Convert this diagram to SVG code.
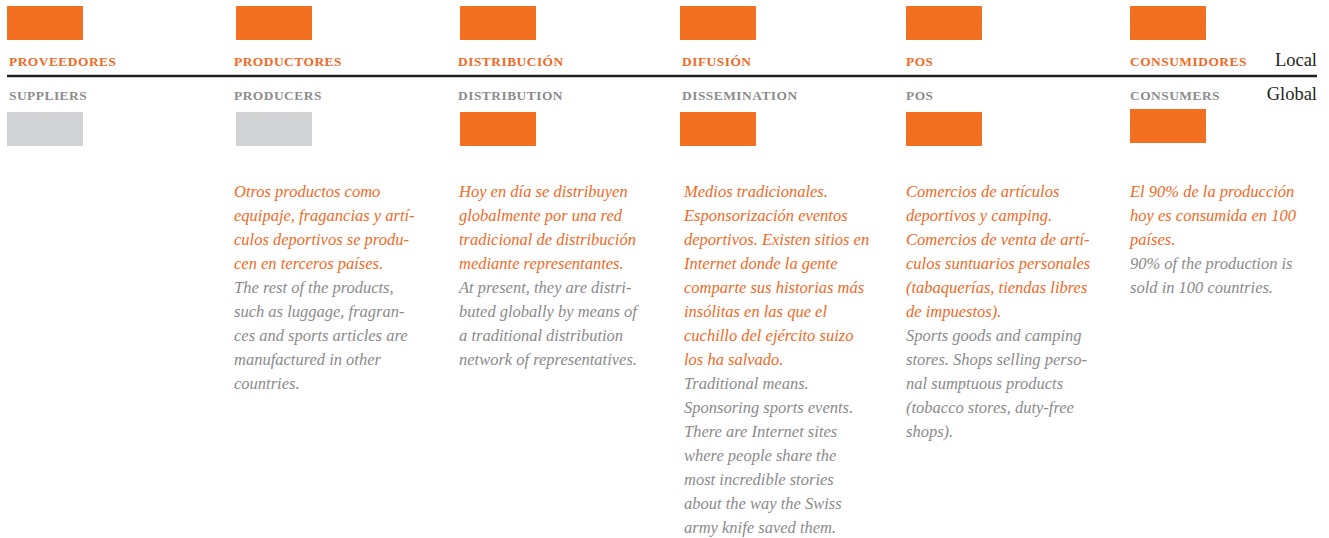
<svg xmlns="http://www.w3.org/2000/svg" width="1329" height="538" viewBox="0 0 1329 538">
<style>
.or{fill:#f37021}
.gr{fill:#d1d2d4}
.es{font-family:"Liberation Serif",serif;font-weight:bold;font-size:13.4px;letter-spacing:0.5px;fill:#f06a26}
.en{font-family:"Liberation Serif",serif;font-weight:bold;font-size:13.4px;letter-spacing:0.5px;fill:#8c8c8e}
.side{font-family:"Liberation Serif",serif;font-size:18.5px;fill:#231f20;text-anchor:end}
.body{font-family:"Liberation Serif",serif;font-style:italic;font-size:16.5px}
.o{fill:#f06a26}
.g{fill:#8a8a8c}
</style>
<rect width="1329" height="538" fill="#ffffff"/>
<g id="connectors">
<line x1="7" y1="76" x2="1317" y2="76" stroke="#231f20" stroke-width="2.5"/>
</g>
<text class="side" x="1317" y="66">Local</text>
<text class="side" x="1317" y="100">Global</text>
<g id="proveedores">
<rect class="or" x="7" y="6" width="76" height="34"/>
<text class="es" x="9" y="66">PROVEEDORES</text>
<text class="en" x="9" y="100">SUPPLIERS</text>
<rect class="gr" x="7" y="112" width="76" height="34"/>
</g>
<g id="productores">
<rect class="or" x="236" y="6" width="76" height="34"/>
<text class="es" x="234" y="66">PRODUCTORES</text>
<text class="en" x="234" y="100">PRODUCERS</text>
<rect class="gr" x="236" y="112" width="76" height="34"/>
<text class="body" x="234">
<tspan class="o" x="234" y="197">Otros productos como</tspan>
<tspan class="o" x="234" y="221">equipaje, fragancias y artí-</tspan>
<tspan class="o" x="234" y="245">culos deportivos se produ-</tspan>
<tspan class="o" x="234" y="269">cen en terceros países.</tspan>
<tspan class="g" x="234" y="293">The rest of the products,</tspan>
<tspan class="g" x="234" y="317">such as luggage, fragran-</tspan>
<tspan class="g" x="234" y="341">ces and sports articles are</tspan>
<tspan class="g" x="234" y="365">manufactured in other</tspan>
<tspan class="g" x="234" y="389">countries.</tspan>
</text>
</g>
<g id="distribucion">
<rect class="or" x="460" y="6" width="76" height="34"/>
<text class="es" x="458" y="66">DISTRIBUCIÓN</text>
<text class="en" x="458" y="100">DISTRIBUTION</text>
<rect class="or" x="460" y="112" width="76" height="34"/>
<text class="body">
<tspan class="o" x="459" y="197">Hoy en día se distribuyen</tspan>
<tspan class="o" x="459" y="221">globalmente por una red</tspan>
<tspan class="o" x="459" y="245">tradicional de distribución</tspan>
<tspan class="o" x="459" y="269">mediante representantes.</tspan>
<tspan class="g" x="459" y="293">At present, they are distri-</tspan>
<tspan class="g" x="459" y="317">buted globally by means of</tspan>
<tspan class="g" x="459" y="341">a traditional distribution</tspan>
<tspan class="g" x="459" y="365">network of representatives.</tspan>
</text>
</g>
<g id="difusion">
<rect class="or" x="680" y="6" width="76" height="34"/>
<text class="es" x="682" y="66">DIFUSIÓN</text>
<text class="en" x="682" y="100">DISSEMINATION</text>
<rect class="or" x="680" y="112" width="76" height="34"/>
<text class="body">
<tspan class="o" x="684" y="197">Medios tradicionales.</tspan>
<tspan class="o" x="684" y="221">Esponsorización eventos</tspan>
<tspan class="o" x="684" y="245">deportivos. Existen sitios en</tspan>
<tspan class="o" x="684" y="269">Internet donde la gente</tspan>
<tspan class="o" x="684" y="293">comparte sus historias más</tspan>
<tspan class="o" x="684" y="317">insólitas en las que el</tspan>
<tspan class="o" x="684" y="341">cuchillo del ejército suizo</tspan>
<tspan class="o" x="684" y="365">los ha salvado.</tspan>
<tspan class="g" x="684" y="389">Traditional means.</tspan>
<tspan class="g" x="684" y="413">Sponsoring sports events.</tspan>
<tspan class="g" x="684" y="437">There are Internet sites</tspan>
<tspan class="g" x="684" y="461">where people share the</tspan>
<tspan class="g" x="684" y="485">most incredible stories</tspan>
<tspan class="g" x="684" y="509">about the way the Swiss</tspan>
<tspan class="g" x="684" y="533">army knife saved them.</tspan>
</text>
</g>
<g id="pos">
<rect class="or" x="906" y="6" width="76" height="34"/>
<text class="es" x="906" y="66">POS</text>
<text class="en" x="906" y="100">POS</text>
<rect class="or" x="906" y="112" width="76" height="34"/>
<text class="body">
<tspan class="o" x="906" y="197">Comercios de artículos</tspan>
<tspan class="o" x="906" y="221">deportivos y camping.</tspan>
<tspan class="o" x="906" y="245">Comercios de venta de artí-</tspan>
<tspan class="o" x="906" y="269">culos suntuarios personales</tspan>
<tspan class="o" x="906" y="293">(tabaquerías, tiendas libres</tspan>
<tspan class="o" x="906" y="317">de impuestos).</tspan>
<tspan class="g" x="906" y="341">Sports goods and camping</tspan>
<tspan class="g" x="906" y="365">stores. Shops selling perso-</tspan>
<tspan class="g" x="906" y="389">nal sumptuous products</tspan>
<tspan class="g" x="906" y="413">(tobacco stores, duty-free</tspan>
<tspan class="g" x="906" y="437">shops).</tspan>
</text>
</g>
<g id="consumidores">
<rect class="or" x="1130" y="6" width="76" height="34"/>
<text class="es" x="1130" y="66">CONSUMIDORES</text>
<text class="en" x="1130" y="100">CONSUMERS</text>
<rect class="or" x="1130" y="109" width="76" height="34"/>
<text class="body">
<tspan class="o" x="1130" y="197">El 90% de la producción</tspan>
<tspan class="o" x="1130" y="221">hoy es consumida en 100</tspan>
<tspan class="o" x="1130" y="245">países.</tspan>
<tspan class="g" x="1130" y="269">90% of the production is</tspan>
<tspan class="g" x="1130" y="293">sold in 100 countries.</tspan>
</text>
</g>
</svg>
